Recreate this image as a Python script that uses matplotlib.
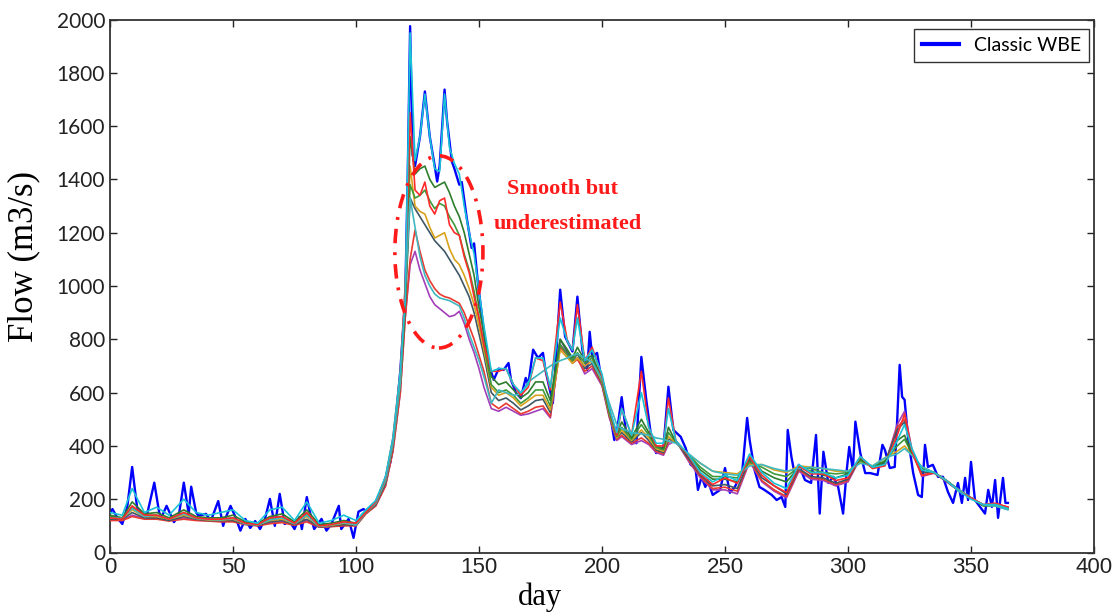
import numpy as np
import matplotlib
matplotlib.use("Agg")
import matplotlib.pyplot as plt
from matplotlib.patches import Ellipse
from matplotlib import font_manager

# flow hydrographs: classic WBE vs smoothed variants

_names = {f.name for f in font_manager.fontManager.ttflist}
NARROW = 'Liberation Sans Narrow' if 'Liberation Sans Narrow' in _names else 'Liberation Sans'
SANS = 'Lato'
SERIF = 'Liberation Serif'

# ---- Classic WBE (blue), daily-ish readings ----
blue_day = [0, 1, 3, 5, 7, 9, 11, 13, 15, 18, 20, 21, 23, 26, 28, 30, 32, 33, 35, 36,
            39, 41, 44, 46, 47, 49, 51, 53, 55, 57, 59, 61, 63, 65, 67, 69, 71, 73, 75, 77,
            78, 80, 82, 83, 86, 88, 90, 93, 94, 97, 99, 101, 103, 104, 106, 108, 110, 112, 114, 116,
            118, 120, 121, 122, 123, 124, 126, 128, 130, 132, 133, 134, 136, 137, 139, 140, 142, 143, 145, 147,
            148, 149.5, 152, 154, 156, 158, 160, 162, 163, 165, 167, 169, 170, 172, 174, 176, 177, 180, 181, 183,
            185, 188, 190, 192, 194, 195, 196, 198, 200, 203, 205, 206, 208, 210, 214, 216, 218, 220, 222, 225,
            227, 229, 232, 234, 236, 238, 239, 240.5, 242, 243, 245, 248, 250, 252, 254, 257, 259, 260, 262, 264,
            266, 269, 271, 273, 274.5, 275.5, 277, 278.5, 280, 282.5, 285, 287, 288.5, 290, 292, 294, 296, 298, 299.5, 300.5,
            302, 303, 305, 307, 309, 312, 314, 315, 317, 319, 320, 321, 322, 323, 324.5, 326.5, 328.5, 330, 331.3, 332.5,
            334.5, 336.6, 338.6, 340.6, 342.7, 344.7, 346.3, 347.6, 348.8, 350, 351.6, 353.7, 355.7, 357, 358.5, 359.8, 361, 363, 364, 365]
blue_flow = [150, 163, 130, 107, 170, 321, 170, 145, 140, 262, 150, 133, 175, 114, 140, 262, 145, 247, 150, 138,
             145, 119, 193, 100, 130, 175, 133, 82, 126, 92, 118, 88, 126, 201, 100, 220, 107, 118, 88, 133,
             88, 208, 120, 88, 126, 82, 107, 175, 88, 126, 55, 153, 163, 157, 170, 190, 230, 280, 340, 480,
             680, 950, 1400, 1975, 1493, 1450, 1560, 1730, 1560, 1450, 1392, 1450, 1737, 1620, 1466, 1440, 1380, 1390, 1256, 1143,
             1160, 1016, 828, 704, 648, 690, 685, 711, 648, 600, 579, 655, 629, 761, 730, 749, 685, 560, 685, 986,
             810, 754, 960, 761, 685, 828, 734, 749, 636, 535, 422, 448, 583, 434, 410, 734, 572, 434, 373, 396,
             622, 460, 434, 392, 330, 317, 235, 284, 246, 272, 216, 235, 317, 224, 246, 303, 505, 423, 310, 246,
             235, 216, 197, 208, 171, 460, 359, 284, 329, 272, 261, 441, 146, 378, 261, 284, 246, 146, 310, 396,
             310, 491, 373, 298, 298, 291, 404, 385, 317, 321, 498, 704, 584, 573, 423, 298, 216, 208, 404, 321,
             329, 284, 284, 228, 186, 261, 186, 280, 197, 340, 197, 171, 146, 235, 171, 272, 130, 280, 186, 186]

# ---- smoothed variants, common day grid ----
day = [0, 5, 9, 14, 19, 24, 30, 35, 40, 45, 50, 55, 60, 65, 70, 75, 80, 85, 90, 95, 100, 104,
       108, 112, 115, 118, 120, 122, 124, 126, 128, 130, 132, 134, 136, 138, 140, 142, 144, 146, 148, 150, 152,
       155, 158, 161, 164, 167, 170, 173, 176, 179, 183, 186, 188, 190, 193, 196, 200, 203, 206, 208, 212, 216, 219, 222, 225, 227,
       230, 235, 240, 245, 250, 255, 260, 265, 270, 275, 280, 285, 290, 295, 300, 305, 310, 315, 320, 323, 326, 330, 335, 340, 345, 350, 355, 360, 365]

cyan1 = [150, 140, 240, 150, 170, 140, 200, 150, 140, 150, 160, 120, 110, 160, 170, 120, 190, 110, 120, 140, 120, 160,
         195, 285, 430, 680, 950, 1950, 1470, 1560, 1720, 1560, 1440, 1430, 1720, 1520, 1460, 1420, 1300, 1200, 1120, 980, 850,
         680, 690, 690, 630, 600, 630, 730, 730, 620, 880, 790, 760, 880, 720, 760, 670, 540, 450, 540, 440, 600, 470, 410, 410, 540,
         420, 370, 300, 265, 290, 270, 370, 300, 260, 240, 330, 300, 300, 280, 290, 360, 320, 330, 420, 480, 390, 310, 300, 270, 230, 200, 180, 180, 165]
red1 = [130, 125, 175, 140, 140, 125, 150, 130, 125, 125, 130, 110, 105, 130, 135, 110, 150, 100, 105, 115, 110, 150,
        190, 280, 430, 680, 1000, 1650, 1360, 1340, 1390, 1300, 1270, 1320, 1330, 1230, 1200, 1190, 1110, 1050, 960, 880, 780,
        680, 680, 690, 630, 590, 620, 730, 720, 610, 940, 790, 760, 930, 720, 770, 660, 540, 440, 540, 440, 680, 470, 400, 400, 580,
        420, 365, 295, 255, 280, 260, 360, 290, 250, 225, 325, 295, 295, 270, 280, 360, 315, 325, 440, 520, 380, 290, 300, 270, 230, 205, 180, 185, 170]
green1 = [140, 130, 190, 145, 150, 130, 160, 135, 130, 130, 140, 115, 110, 135, 145, 115, 160, 105, 110, 120, 110, 155,
          190, 280, 420, 660, 950, 1560, 1420, 1440, 1450, 1400, 1370, 1380, 1390, 1350, 1300, 1260, 1200, 1120, 1040, 920, 820,
          660, 630, 640, 610, 580, 600, 640, 640, 570, 800, 760, 730, 770, 720, 740, 650, 530, 440, 490, 430, 500, 450, 400, 390, 470,
          415, 365, 310, 275, 275, 265, 360, 305, 280, 265, 320, 305, 290, 280, 295, 350, 320, 340, 420, 440, 370, 310, 300, 270, 235, 205, 175, 178, 165]
green2 = [135, 130, 170, 140, 140, 125, 150, 130, 125, 125, 130, 110, 105, 125, 135, 110, 145, 100, 105, 115, 105, 150,
          185, 270, 410, 640, 930, 1380, 1330, 1340, 1360, 1320, 1290, 1310, 1300, 1260, 1230, 1190, 1120, 1060, 980, 880, 780,
          630, 600, 610, 590, 560, 580, 610, 610, 550, 780, 740, 720, 750, 710, 730, 645, 525, 435, 470, 425, 480, 440, 395, 385, 450,
          415, 368, 320, 285, 285, 280, 340, 320, 295, 285, 320, 315, 300, 295, 300, 345, 320, 345, 400, 425, 370, 315, 300, 270, 235, 205, 176, 176, 165]
gold = [130, 128, 160, 135, 135, 125, 140, 128, 122, 122, 125, 108, 104, 120, 125, 108, 135, 98, 102, 110, 104, 150,
        185, 270, 410, 640, 960, 1450, 1300, 1280, 1270, 1220, 1180, 1190, 1200, 1140, 1100, 1080, 1040, 990, 930, 850, 760,
        620, 590, 600, 580, 550, 570, 590, 590, 535, 760, 730, 710, 730, 700, 720, 640, 520, 430, 460, 420, 460, 430, 390, 380, 435,
        412, 370, 335, 305, 300, 295, 330, 330, 310, 300, 325, 320, 315, 305, 305, 340, 325, 355, 380, 400, 365, 320, 300, 270, 235, 205, 177, 175, 162]
slate = [125, 125, 150, 130, 130, 120, 135, 125, 120, 120, 120, 106, 102, 115, 120, 105, 125, 96, 100, 105, 102, 148,
         180, 260, 400, 630, 920, 1330, 1290, 1260, 1230, 1200, 1170, 1150, 1130, 1100, 1070, 1040, 1000, 960, 900, 820, 740,
         600, 570, 580, 560, 535, 550, 570, 575, 525, 800, 750, 720, 745, 690, 710, 635, 515, 430, 450, 415, 450, 420, 385, 375, 425,
         418, 355, 290, 250, 255, 240, 350, 280, 250, 220, 315, 285, 280, 260, 275, 355, 318, 335, 460, 490, 380, 300, 300, 268, 232, 205, 178, 180, 168]
red2 = [120, 120, 135, 125, 125, 118, 125, 120, 118, 115, 115, 105, 100, 108, 112, 102, 115, 95, 97, 100, 100, 145,
        175, 250, 380, 600, 880, 1100, 1210, 1130, 1060, 1020, 990, 970, 960, 955, 945, 935, 900, 850, 800, 740, 680,
        560, 540, 560, 540, 520, 530, 545, 550, 510, 770, 740, 710, 725, 680, 700, 630, 510, 425, 440, 410, 430, 410, 380, 370, 415,
        420, 350, 285, 240, 245, 230, 345, 270, 235, 210, 310, 280, 275, 255, 270, 355, 318, 330, 470, 500, 375, 290, 298, 268, 232, 205, 178, 182, 170]
cyan2 = [130, 128, 165, 135, 140, 125, 145, 128, 124, 122, 128, 108, 104, 122, 130, 108, 140, 98, 104, 112, 104, 150,
         185, 270, 410, 640, 1000, 1330, 1220, 1110, 1040, 1000, 970, 955, 950, 945, 935, 925, 880, 820, 770, 720, 660,
         560, 610, 600, 590, 595, 640, 660, 680, 700, 720, 730, 740, 745, 730, 715, 650, 560, 480, 465, 450, 445, 440, 430, 425, 418,
         410, 372, 335, 305, 295, 290, 325, 330, 315, 305, 315, 320, 315, 310, 305, 335, 325, 355, 370, 390, 365, 322, 300, 270, 236, 206, 178, 174, 160]
purple = [122, 122, 140, 128, 128, 120, 130, 122, 119, 117, 118, 106, 101, 112, 116, 104, 120, 96, 98, 103, 101, 146,
          175, 250, 380, 600, 880, 1080, 1130, 1060, 1010, 960, 930, 915, 900, 885, 890, 905, 860, 800, 750, 690, 620,
          540, 530, 545, 530, 515, 520, 530, 540, 505, 780, 745, 720, 730, 670, 690, 625, 505, 420, 435, 405, 420, 405, 375, 365, 405,
          420, 345, 280, 235, 235, 220, 340, 265, 230, 205, 305, 275, 270, 250, 265, 355, 318, 328, 480, 530, 385, 285, 298, 266, 232, 205, 178, 183, 170]

smoothed = [
    (purple, '#A33FB8'),
    (red2, '#E83A30'),
    (slate, '#3E5866'),
    (gold, '#D9A21C'),
    (green2, '#3F9A3A'),
    (green1, '#2E7D2E'),
    (cyan2, '#3FB8C0'),
    (red1, '#FF2A2A'),
    (cyan1, '#19C3D6'),
]

x_ticks = [0, 50, 100, 150, 200, 250, 300, 350, 400]
y_ticks = [0, 200, 400, 600, 800, 1000, 1200, 1400, 1600, 1800, 2000]


def main():
    for vals, _ in smoothed:
        assert len(vals) == len(day), len(vals)
    assert len(blue_day) == len(blue_flow)

    fig = plt.figure(figsize=(11.12, 6.15), dpi=100)
    ax = fig.add_axes([110 / 1112, 62.5 / 615, 984 / 1112, 533 / 615])

    ax.plot(blue_day, blue_flow, color='#0000FF', lw=1.7, label='Classic WBE', zorder=2)
    for vals, col in smoothed:
        ax.plot(day, vals, color=col, lw=1.2, zorder=3)

    # annotation: dash-dot ellipse + red text
    ell = Ellipse((133.7, 1128), 35.8, 721, fill=False, ec='#FF1A1A', lw=2.6,
                  ls=(0, (4, 2.5, 0.8, 2.5)), zorder=4)
    ax.add_patch(ell)
    ax.text(184, 1364, 'Smooth but', color='#FF1A1A', fontsize=16,
            fontweight='bold', family=SERIF, ha='center', va='center')
    ax.text(186, 1234, 'underestimated', color='#FF1A1A', fontsize=16,
            fontweight='bold', family=SERIF, ha='center', va='center')

    ax.set_xlim(0, 400)
    ax.set_ylim(0, 2000)
    ax.set_xticks(x_ticks)
    ax.set_yticks(y_ticks)
    ax.tick_params(direction='in', length=5, width=1, top=True, right=True, colors='#222222')
    for lab in ax.get_xticklabels():
        lab.set_family(NARROW)
        lab.set_fontsize(16)
    for lab in ax.get_yticklabels():
        lab.set_family(SANS)
        lab.set_fontsize(15)
    for sp in ax.spines.values():
        sp.set_color('#333333')
        sp.set_linewidth(1.3)

    ax.set_xlabel('day', family=SERIF, fontsize=22)
    ax.xaxis.set_label_coords(0.437, -0.056)
    ax.set_ylabel('Flow (m3/s)', family=SERIF, fontsize=25)
    ax.yaxis.set_label_coords(-0.071, 0.555)

    leg = ax.legend(loc='upper right', bbox_to_anchor=(1089 / 1112, 1 - 29 / 615),
                    bbox_transform=fig.transFigure, borderaxespad=0, fancybox=False,
                    prop={'family': SANS, 'size': 14}, handlelength=1.9)
    leg.get_frame().set_edgecolor('black')
    leg.get_frame().set_linewidth(1.0)
    leg.get_lines()[0].set_linewidth(3)

    fig.savefig('out.png', dpi=100)


if __name__ == '__main__':
    main()
